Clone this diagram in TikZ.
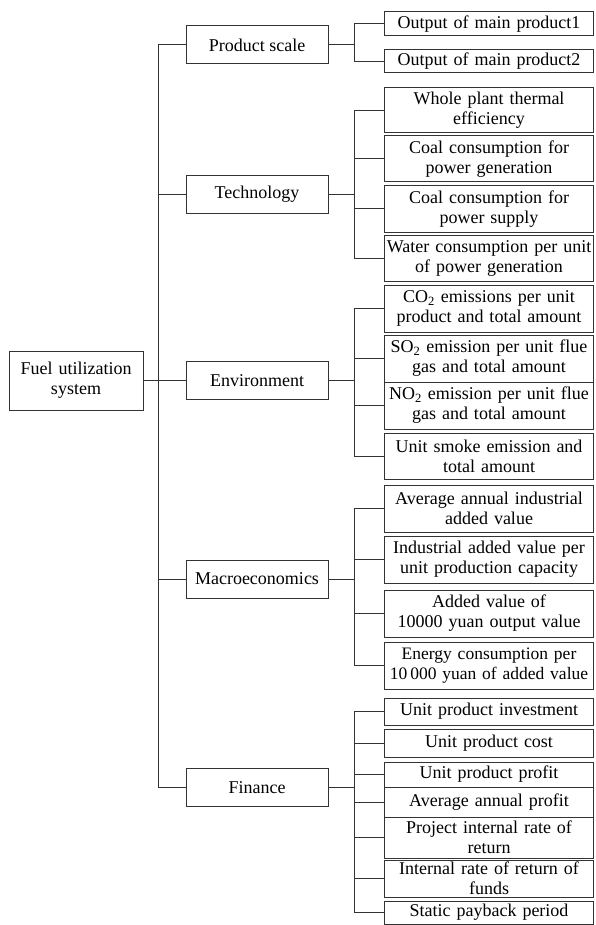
\documentclass[tikz,border=0pt]{standalone}
\usepackage{fontspec}
\setmainfont{Liberation Serif}
\begin{document}
\begin{tikzpicture}[x=1pt,y=-1pt,
  every node/.style={font=\fontsize{18}{20}\selectfont},
  box/.style={draw=black!80, line width=1pt, inner sep=2pt, align=center},
  rootbox/.style={box, text width=128pt, minimum width=134pt, minimum height=59pt},
  midbox/.style={box, minimum width=142pt, minimum height=38pt},
  leafbox/.style={box, text width=205pt, minimum height=46pt},
  link/.style={draw=black!80, line width=1pt}]
\useasboundingbox (0,0) rectangle (595,925);
\node[rootbox] (R) at (76,380.5) {Fuel utilization\\system};
\node[midbox] (P) at (257,45) {Product scale};
\node[midbox] (T) at (257,194.5) {Technology};
\node[midbox] (E) at (257,380.5) {Environment};
\node[midbox] (M) at (257,579) {Macroeconomics};
\node[midbox] (F) at (257,787.5) {Finance};
% product scale
\node[leafbox,minimum height=24pt] (P1) at (489,24) {Output of main product1};
\node[leafbox,minimum height=23pt] (P2) at (489,61.5) {Output of main product2};
% technology
\node[leafbox,minimum height=45pt] (T1) at (489,110.5) {Whole plant thermal\\efficiency};
\node[leafbox] (T2) at (489,159) {Coal consumption for\\power generation};
\node[leafbox] (T3) at (489,209) {Coal consumption for\\power supply};
\node[leafbox] (T4) at (489,258) {Water consumption per unit\\of power generation};
% environment
\node[leafbox,minimum height=47pt] (E1) at (489,308.5) {CO\textsubscript{2} emissions per unit\\product and total amount};
\node[leafbox,minimum height=47pt] (E2) at (489,358.5) {SO\textsubscript{2} emission per unit flue\\gas and total amount};
\node[leafbox,minimum height=47pt] (E3) at (489,405.5) {NO\textsubscript{2} emission per unit flue\\gas and total amount};
\node[leafbox] (E4) at (489,456) {Unit smoke emission and\\total amount};
% macroeconomics
\node[leafbox,minimum height=47pt] (M1) at (489,508.5) {Average annual industrial\\added value};
\node[leafbox,minimum height=47pt] (M2) at (489,559.5) {Industrial added value per\\unit production capacity};
\node[leafbox,minimum height=47pt] (M3) at (489,613.5) {Added value of\\10000 yuan output value};
\node[leafbox,minimum height=47pt,font=\fontsize{17.5}{20}\selectfont] (M4) at (489,665.5) {Energy consumption per\\\mbox{10\,000 yuan of added value}};
% finance
\node[leafbox,minimum height=27pt] (F1) at (489,711.5) {Unit product investment};
\node[leafbox,minimum height=28pt] (F2) at (489,743) {Unit product cost};
\node[leafbox,minimum height=25pt] (F3) at (489,774.5) {Unit product profit};
\node[leafbox,minimum height=30pt] (F4) at (489,802) {Average annual profit};
\node[leafbox,minimum height=41pt] (F5) at (489,837.5) {Project internal rate of\\return};
\node[leafbox,minimum height=37pt] (F6) at (489,878.5) {Internal rate of return of\\funds};
\node[leafbox,minimum height=23pt] (F7) at (489,912.5) {Static payback period};
% connectors
\draw[link] (R.east) -- ++(15,0) coordinate (s0);
\draw[link] (s0) |- (P.west);
\draw[link] (s0) |- (T.west);
\draw[link] (s0) |- (E.west);
\draw[link] (s0) |- (M.west);
\draw[link] (s0) |- (F.west);
\draw[link] (P.east) -- ++(26,0) coordinate (sP);
\draw[link] (sP) |- (P1.west);
\draw[link] (sP) |- (P2.west);
\draw[link] (T.east) -- ++(26,0) coordinate (sT);
\draw[link] (sT) |- (T1.west);
\draw[link] (sT) |- (T2.west);
\draw[link] (sT) |- (T3.west);
\draw[link] (sT) |- (T4.west);
\draw[link] (E.east) -- ++(26,0) coordinate (sE);
\draw[link] (sE) |- (E1.west);
\draw[link] (sE) |- (E2.west);
\draw[link] (sE) |- (E3.west);
\draw[link] (sE) |- (E4.west);
\draw[link] (M.east) -- ++(26,0) coordinate (sM);
\draw[link] (sM) |- (M1.west);
\draw[link] (sM) |- (M2.west);
\draw[link] (sM) |- (M3.west);
\draw[link] (sM) |- (M4.west);
\draw[link] (F.east) -- ++(26,0) coordinate (sF);
\draw[link] (sF) |- (F1.west);
\draw[link] (sF) |- (F2.west);
\draw[link] (sF) |- (F3.west);
\draw[link] (sF) |- (F4.west);
\draw[link] (sF) |- (F5.west);
\draw[link] (sF) |- (F6.west);
\draw[link] (sF) |- (F7.west);
\end{tikzpicture}
\end{document}
